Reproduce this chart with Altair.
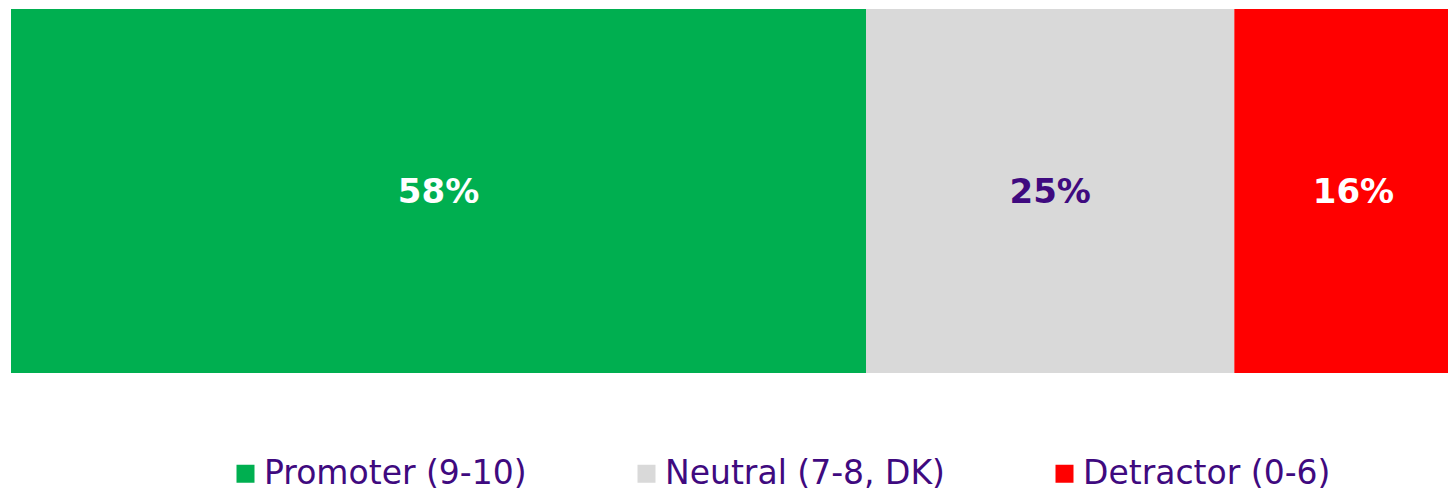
import altair as alt
import pandas as pd

categories = ["Promoter (9-10)", "Neutral (7-8, DK)", "Detractor (0-6)"]
values = [58.5, 25.2, 16.3]
labels = ["58%", "25%", "16%"]
order = [1, 2, 3]
colors = ["#00AF50", "#D9D9D9", "#FF0000"]

df = pd.DataFrame({"category": categories, "value": values, "label": labels,
                   "ord": order, "row": ["NPS"] * 3})

PURPLE = "#3F0A7F"

xscale = alt.Scale(domain=[0, 98.32], nice=False, zero=True)
yenc = alt.Y("row:N", axis=None, scale=alt.Scale(paddingInner=0, paddingOuter=0))

base = alt.Chart(df).transform_stack(
    stack="value", groupby=["row"], as_=["x0", "x1"],
    sort=[alt.SortField("ord", order="ascending")]
).transform_calculate(mid="(datum.x0 + datum.x1) / 2")

bars = base.mark_bar(clip=True, stroke=None).encode(
    x=alt.X("x0:Q", scale=xscale, axis=None),
    x2="x1:Q",
    y=yenc,
    color=alt.Color("category:N",
                    scale=alt.Scale(domain=categories, range=colors),
                    sort=categories,
                    legend=alt.Legend(
                        title=None, orient="none", direction="horizontal",
                        legendX=218, legendY=448,
                        symbolType="square", symbolSize=324, symbolStrokeWidth=0,
                        symbolOpacity=1,
                        labelFont="DejaVu Sans", labelFontSize=33,
                        labelColor=PURPLE, labelLimit=600, labelOffset=2,
                        columnPadding=103, padding=0)),
)

text = base.mark_text(font="DejaVu Sans", fontSize=34, fontWeight="bold",
                      baseline="middle", align="center", dy=2).encode(
    x=alt.X("mid:Q", scale=xscale, axis=None),
    y=yenc,
    text="label:N",
    color=alt.condition(alt.datum.category == "Neutral (7-8, DK)",
                        alt.value(PURPLE), alt.value("#FFFFFF")),
)

chart = alt.layer(bars, text).properties(
    width=1437, height=364,
    autosize=alt.AutoSizeParams(type="none"),
    padding={"left": 3, "top": 1, "right": 0, "bottom": 118},
).configure_view(stroke=None).resolve_scale(color="independent")

chart.save("out.html", embed_options={"renderer": "svg", "actions": False})
